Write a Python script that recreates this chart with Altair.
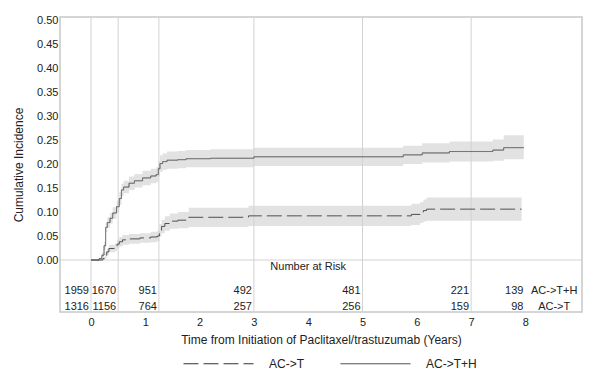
import altair as alt
import pandas as pd

# ---- data ----
t_h = [0, 0.15, 0.2, 0.24, 0.27, 0.3, 0.35, 0.4, 0.47, 0.52, 0.56, 0.6, 0.7, 0.8, 0.95, 1.1, 1.2, 1.24,
       1.27, 1.32, 1.4, 1.6, 1.75, 2.2, 3.0, 5.75, 6.1, 6.6, 7.4, 7.6, 7.97]
v_h = [0, 0.003, 0.01, 0.03, 0.068, 0.078, 0.087, 0.098, 0.111, 0.128, 0.146, 0.152, 0.160, 0.165, 0.171,
       0.175, 0.178, 0.19, 0.201, 0.205, 0.208, 0.209, 0.211, 0.212, 0.215, 0.219, 0.223, 0.226, 0.229,
       0.234, 0.234]
lo_h = [0, 0.001, 0.005, 0.022, 0.058, 0.067, 0.076, 0.086, 0.099, 0.115, 0.133, 0.139, 0.146, 0.151,
        0.156, 0.160, 0.162, 0.174, 0.184, 0.188, 0.190, 0.191, 0.193, 0.193, 0.196, 0.200, 0.203, 0.205,
        0.207, 0.210, 0.210]
hi_h = [0, 0.005, 0.015, 0.038, 0.078, 0.089, 0.098, 0.110, 0.123, 0.141, 0.159, 0.165, 0.174, 0.179,
        0.186, 0.190, 0.194, 0.206, 0.218, 0.222, 0.226, 0.227, 0.229, 0.231, 0.234, 0.238, 0.243, 0.247,
        0.251, 0.260, 0.260]

t_t = [0, 0.22, 0.26, 0.29, 0.33, 0.44, 0.48, 0.52, 0.58, 0.7, 0.9, 1.1, 1.22, 1.26, 1.3, 1.36, 1.45,
       1.6, 1.8, 2.9, 5.9, 6.06, 6.12, 6.18, 7.93]
v_t = [0, 0.003, 0.01, 0.017, 0.024, 0.027, 0.033, 0.038, 0.042, 0.044, 0.046, 0.048, 0.05, 0.062, 0.07,
       0.076, 0.081, 0.083, 0.089, 0.092, 0.095, 0.099, 0.103, 0.106, 0.106]
lo_t = [0, 0, 0.004, 0.010, 0.016, 0.019, 0.024, 0.028, 0.032, 0.034, 0.036, 0.037, 0.039, 0.049, 0.056,
        0.061, 0.065, 0.066, 0.069, 0.071, 0.073, 0.077, 0.080, 0.082, 0.082]
hi_t = [0, 0.006, 0.016, 0.024, 0.032, 0.035, 0.042, 0.048, 0.052, 0.054, 0.056, 0.059, 0.061, 0.075,
        0.084, 0.091, 0.097, 0.1, 0.109, 0.113, 0.117, 0.121, 0.126, 0.13, 0.13]

series_names = ["AC->T", "AC->T+H"]

risk_times = [0, 0.5, 1.25, 3, 5, 7, 8]
risk_h = [1959, 1670, 951, 492, 481, 221, 139]
risk_t = [1316, 1156, 764, 257, 256, 159, 98]

grid_times = [0, 0.5, 1.25, 3, 5, 7]
y_ticks = [0, 0.05, 0.1, 0.15, 0.2, 0.25, 0.3, 0.35, 0.4, 0.45, 0.5]
x_ticks = [0, 1, 2, 3, 4, 5, 6, 7, 8]

# ---- tables ----
curves = pd.concat([
    pd.DataFrame({"t": t_t, "v": v_t, "lo": lo_t, "hi": hi_t, "series": series_names[0]}),
    pd.DataFrame({"t": t_h, "v": v_h, "lo": lo_h, "hi": hi_h, "series": series_names[1]}),
], ignore_index=True)

ROW_H, ROW_T, ROW_HEAD = -0.0646, -0.098, -0.0146
risk = pd.concat([
    pd.DataFrame({"t": risk_times, "n": risk_h, "row": ROW_H}),
    pd.DataFrame({"t": risk_times, "n": risk_t, "row": ROW_T}),
], ignore_index=True)
row_labels = pd.DataFrame({"t": [8.53, 8.53], "row": [ROW_H, ROW_T], "label": ["AC->T+H", "AC->T"]})
header = pd.DataFrame({"t": [4.0], "row": [ROW_HEAD], "label": ["Number at Risk"]})
grid = pd.DataFrame({"t": grid_times})
zero = pd.DataFrame({"v": [0.0]})

xs = alt.Scale(domain=[-0.571, 9.042], nice=False, zero=False)
ys = alt.Scale(domain=[-0.1083, 0.50625], nice=False, zero=False)

xaxis = alt.Axis(values=x_ticks, format="d", ticks=False, domain=False, grid=False,
                 labelPadding=4, labelFontSize=11, labelColor="#222",
                 title="Time from Initiation of Paclitaxel/trastuzumab (Years)",
                 titleFontSize=12, titleFontWeight="normal", titleColor="#222", titlePadding=7)
yaxis = alt.Axis(values=y_ticks, format=".2f", ticks=False, domain=False, grid=False,
                 labelPadding=2, labelFontSize=11, labelColor="#222", labelOverlap=False,
                 title="Cumulative Incidence", titleFontSize=12, titleFontWeight="normal",
                 titleColor="#222", titlePadding=11)


def X(field):
    return alt.X(field, scale=xs, axis=xaxis)


def Y(field):
    return alt.Y(field, scale=ys, axis=yaxis)


bands = alt.Chart(curves).mark_area(interpolate="step-after", color="#e2e2e2").encode(
    x=X("t:Q"), y=Y("lo:Q"), y2="hi:Q", detail="series:N",
)

vgrid = alt.Chart(grid).mark_rule(color="#d2d2d2", strokeWidth=1).encode(x=X("t:Q"))
hzero = alt.Chart(zero).mark_rule(color="#d2d2d2", strokeWidth=1).encode(y=Y("v:Q"))

lines = alt.Chart(curves).mark_line(interpolate="step-after", color="#505050", strokeWidth=1).encode(
    x=X("t:Q"),
    y=Y("v:Q"),
    strokeDash=alt.StrokeDash(
        "series:N",
        scale=alt.Scale(domain=series_names, range=[[15, 5], [1, 0]]),
        legend=alt.Legend(
            title=None, orient="none", legendX=123, legendY=311,
            direction="horizontal", symbolType="stroke", symbolSize=4900,
            symbolStrokeColor="#333", symbolStrokeWidth=1,
            labelFontSize=12, labelColor="#222", labelOffset=15, columnPadding=33,
        ),
    ),
)

risk_text = alt.Chart(risk).mark_text(align="right", baseline="middle", dx=-2, fontSize=11,
                                      color="#222").encode(x=X("t:Q"), y=Y("row:Q"), text="n:Q")
label_text = alt.Chart(row_labels).mark_text(align="center", baseline="middle", fontSize=11,
                                             color="#222").encode(x=X("t:Q"), y=Y("row:Q"), text="label:N")
header_text = alt.Chart(header).mark_text(align="center", baseline="middle", fontSize=11,
                                          color="#222").encode(x=X("t:Q"), y=Y("row:Q"), text="label:N")

chart = alt.layer(bands, vgrid, hzero, lines, risk_text, label_text, header_text).properties(
    width=522, height=295,
    autosize=alt.AutoSizeParams(type="none"),
    padding={"left": 52, "top": 9, "right": 20, "bottom": 62},
).configure(font="Liberation Sans").configure_view(stroke="#c8c8c8", strokeWidth=1.5)

chart.save("out.html", embed_options={"renderer": "svg", "actions": False})
